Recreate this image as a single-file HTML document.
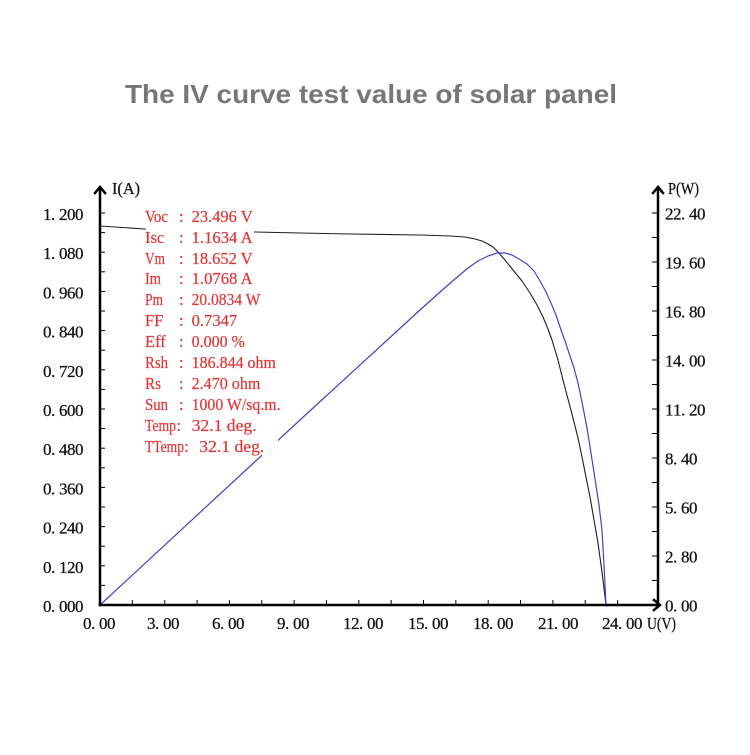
<!DOCTYPE html>
<html>
<head>
<meta charset="utf-8">
<style>
  html, body { margin: 0; padding: 0; background: #ffffff; }
  body { width: 750px; height: 750px; overflow: hidden; }
  svg text { white-space: pre; }
</style>
</head>
<body>
<svg width="750" height="750" viewBox="0 0 750 750" xmlns="http://www.w3.org/2000/svg">
  <rect x="0" y="0" width="750" height="750" fill="#ffffff"/>

  <!-- Title -->
  <text x="371" y="103" text-anchor="middle" font-family="Liberation Sans, Arial, sans-serif" font-weight="bold" font-size="26" fill="#777777" textLength="492" lengthAdjust="spacingAndGlyphs">The IV curve test value of solar panel</text>

  <!-- Curves -->
  <polyline fill="none" stroke="#1e1e1e" stroke-width="1.1" stroke-linejoin="round"
    points="100,226 145,229 255,232 300,233 350,234 420,235 450,236 465,237 475,239 482,241 488,244 493,247 498,252 505,260 513,270 522,281 530,293 537,305 543,317 548,329 552,340 558,360 563,380 568,399 573,418 578,438 582,457 586,477 590,497 594,520 598,543 602,572 606,605"/>
  <polyline fill="none" stroke="#4343c4" stroke-width="1.2" stroke-linejoin="round"
    points="100,605 300,420 420,310 440,292 455,279 468,268 478,261 488,256 497,253 505,253 512,255 519,259 527,264 534,271 540,281 546,292 551,303 556,315 560,327 565,341 570,356 574,368 578,383 582,402 587,428 591,453 595,479 599,505 602,530 604,565 606,605"/>

  <!-- white backgrounds behind text -->
  <rect x="146" y="223" width="108" height="14" fill="#ffffff"/>
  <rect x="262" y="439" width="16" height="19" fill="#ffffff"/>

  <!-- Axes -->
  <g stroke="#000" stroke-width="2.5" fill="none" stroke-linecap="square">
    <line x1="100" y1="188" x2="100" y2="605"/>
    <line x1="100" y1="605" x2="659" y2="605"/>
    <line x1="658" y1="188" x2="658" y2="605"/>
    <polyline points="95,193 100,187 105,193" stroke-linejoin="miter"/>
    <polyline points="653,193 658,187 663,193" stroke-linejoin="miter"/>
    <polyline points="654,600 660,605 654,610" stroke-linejoin="miter"/>
  </g>

  <!-- Left ticks -->
  <g stroke="#000" stroke-width="1">
    <line x1="100" y1="585.4" x2="105" y2="585.4"/>
    <line x1="100" y1="565.8" x2="105" y2="565.8"/>
    <line x1="100" y1="546.2" x2="105" y2="546.2"/>
    <line x1="100" y1="526.6" x2="105" y2="526.6"/>
    <line x1="100" y1="507" x2="105" y2="507"/>
    <line x1="100" y1="487.4" x2="105" y2="487.4"/>
    <line x1="100" y1="467.8" x2="105" y2="467.8"/>
    <line x1="100" y1="448.2" x2="105" y2="448.2"/>
    <line x1="100" y1="428.6" x2="105" y2="428.6"/>
    <line x1="100" y1="409" x2="105" y2="409"/>
    <line x1="100" y1="389.4" x2="105" y2="389.4"/>
    <line x1="100" y1="369.8" x2="105" y2="369.8"/>
    <line x1="100" y1="350.2" x2="105" y2="350.2"/>
    <line x1="100" y1="330.6" x2="105" y2="330.6"/>
    <line x1="100" y1="311" x2="105" y2="311"/>
    <line x1="100" y1="291.4" x2="105" y2="291.4"/>
    <line x1="100" y1="271.8" x2="105" y2="271.8"/>
    <line x1="100" y1="252.2" x2="105" y2="252.2"/>
    <line x1="100" y1="232.6" x2="105" y2="232.6"/>
    <line x1="100" y1="213" x2="105" y2="213"/>
  </g>

  <!-- Right ticks -->
  <g stroke="#000" stroke-width="1">
    <line x1="652" y1="580.5" x2="658" y2="580.5"/>
    <line x1="652" y1="556" x2="658" y2="556"/>
    <line x1="652" y1="531.5" x2="658" y2="531.5"/>
    <line x1="652" y1="507" x2="658" y2="507"/>
    <line x1="652" y1="482.5" x2="658" y2="482.5"/>
    <line x1="652" y1="458" x2="658" y2="458"/>
    <line x1="652" y1="433.5" x2="658" y2="433.5"/>
    <line x1="652" y1="409" x2="658" y2="409"/>
    <line x1="652" y1="384.5" x2="658" y2="384.5"/>
    <line x1="652" y1="360" x2="658" y2="360"/>
    <line x1="652" y1="335.5" x2="658" y2="335.5"/>
    <line x1="652" y1="311" x2="658" y2="311"/>
    <line x1="652" y1="286.5" x2="658" y2="286.5"/>
    <line x1="652" y1="262" x2="658" y2="262"/>
    <line x1="652" y1="237.5" x2="658" y2="237.5"/>
    <line x1="652" y1="213" x2="658" y2="213"/>
  </g>

  <!-- Bottom ticks -->
  <g stroke="#000" stroke-width="1">
    <line x1="132.35" y1="600" x2="132.35" y2="605"/>
    <line x1="164.7" y1="600" x2="164.7" y2="605"/>
    <line x1="197.05" y1="600" x2="197.05" y2="605"/>
    <line x1="229.4" y1="600" x2="229.4" y2="605"/>
    <line x1="261.75" y1="600" x2="261.75" y2="605"/>
    <line x1="294.1" y1="600" x2="294.1" y2="605"/>
    <line x1="326.45" y1="600" x2="326.45" y2="605"/>
    <line x1="358.8" y1="600" x2="358.8" y2="605"/>
    <line x1="391.15" y1="600" x2="391.15" y2="605"/>
    <line x1="423.5" y1="600" x2="423.5" y2="605"/>
    <line x1="455.85" y1="600" x2="455.85" y2="605"/>
    <line x1="488.2" y1="600" x2="488.2" y2="605"/>
    <line x1="520.55" y1="600" x2="520.55" y2="605"/>
    <line x1="552.9" y1="600" x2="552.9" y2="605"/>
    <line x1="585.25" y1="600" x2="585.25" y2="605"/>
    <line x1="617.6" y1="600" x2="617.6" y2="605"/>
  </g>

  <!-- Axis labels -->
  <g font-family="Liberation Serif, 'Times New Roman', serif" font-size="17" fill="#111" stroke="#111" stroke-width="0.25">
    <!-- left -->
    <text x="43 51 59 67 75" y="220">1.200</text>
    <text x="43 51 59 67 75" y="259.2">1.080</text>
    <text x="43 51 59 67 75" y="298.4">0.960</text>
    <text x="43 51 59 67 75" y="337.6">0.840</text>
    <text x="43 51 59 67 75" y="376.8">0.720</text>
    <text x="43 51 59 67 75" y="416">0.600</text>
    <text x="43 51 59 67 75" y="455.2">0.480</text>
    <text x="43 51 59 67 75" y="494.4">0.360</text>
    <text x="43 51 59 67 75" y="533.6">0.240</text>
    <text x="43 51 59 67 75" y="572.8">0.120</text>
    <text x="43 51 59 67 75" y="612">0.000</text>
    <!-- right -->
    <text x="665 673 681 689 697" y="219.5">22.40</text>
    <text x="665 673 681 689 697" y="268.5">19.60</text>
    <text x="665 673 681 689 697" y="317.5">16.80</text>
    <text x="665 673 681 689 697" y="366.5">14.00</text>
    <text x="665 673 681 689 697" y="415.5">11.20</text>
    <text x="665 673 681 689" y="464.5">8.40</text>
    <text x="665 673 681 689" y="513.5">5.60</text>
    <text x="665 673 681 689" y="562.5">2.80</text>
    <text x="665 673 681 689" y="611.5">0.00</text>
    <!-- bottom -->
    <text x="83 91 99 107" y="629">0.00</text>
    <text x="147 155 163 171" y="629">3.00</text>
    <text x="212 220 228 236" y="629">6.00</text>
    <text x="277 285 293 301" y="629">9.00</text>
    <text x="343 351 359 367 375" y="629">12.00</text>
    <text x="408 416 424 432 440" y="629">15.00</text>
    <text x="473 481 489 497 505" y="629">18.00</text>
    <text x="538 546 554 562 570" y="629">21.00</text>
    <text x="602 610 618 626 634" y="629">24.00</text>
    <text x="647" y="629" textLength="29" lengthAdjust="spacingAndGlyphs">U(V)</text>
    <text x="112" y="194" textLength="28" lengthAdjust="spacingAndGlyphs">I(A)</text>
    <text x="668" y="194" textLength="31" lengthAdjust="spacingAndGlyphs">P(W)</text>
  </g>

  <!-- Red info text -->
  <g font-family="Liberation Serif, 'Times New Roman', serif" font-size="16.5" fill="#e03535" stroke="#e03535" stroke-width="0.2">
    <text x="145" y="222" textLength="23" lengthAdjust="spacingAndGlyphs">Voc</text>
    <text x="179" y="222">:</text>
    <text x="191.6" y="222" textLength="61" lengthAdjust="spacingAndGlyphs">23.496 V</text>

    <text x="145" y="243">Isc</text>
    <text x="179" y="243">:</text>
    <text x="191.6" y="243" textLength="61" lengthAdjust="spacingAndGlyphs">1.1634 A</text>

    <text x="145" y="264" textLength="20" lengthAdjust="spacingAndGlyphs">Vm</text>
    <text x="179" y="264">:</text>
    <text x="191.6" y="264" textLength="61" lengthAdjust="spacingAndGlyphs">18.652 V</text>

    <text x="145" y="284" textLength="16" lengthAdjust="spacingAndGlyphs">Im</text>
    <text x="179" y="284">:</text>
    <text x="191.6" y="284" textLength="61" lengthAdjust="spacingAndGlyphs">1.0768 A</text>

    <text x="145" y="305" textLength="18" lengthAdjust="spacingAndGlyphs">Pm</text>
    <text x="179" y="305">:</text>
    <text x="191.6" y="305" textLength="68.8" lengthAdjust="spacingAndGlyphs">20.0834 W</text>

    <text x="145" y="326">FF</text>
    <text x="179" y="326">:</text>
    <text x="191.6" y="326" textLength="45.6" lengthAdjust="spacingAndGlyphs">0.7347</text>

    <text x="145" y="347">Eff</text>
    <text x="179" y="347">:</text>
    <text x="191.6" y="347" textLength="53.3" lengthAdjust="spacingAndGlyphs">0.000 %</text>

    <text x="145" y="368" textLength="23" lengthAdjust="spacingAndGlyphs">Rsh</text>
    <text x="179" y="368">:</text>
    <text x="191.6" y="368" textLength="84.4" lengthAdjust="spacingAndGlyphs">186.844 ohm</text>

    <text x="145" y="389" textLength="16" lengthAdjust="spacingAndGlyphs">Rs</text>
    <text x="179" y="389">:</text>
    <text x="191.6" y="389" textLength="68.8" lengthAdjust="spacingAndGlyphs">2.470 ohm</text>

    <text x="145" y="410" textLength="23" lengthAdjust="spacingAndGlyphs">Sun</text>
    <text x="179" y="410">:</text>
    <text x="191.6" y="410" textLength="89" lengthAdjust="spacingAndGlyphs">1000 W/sq.m.</text>

    <text x="145" y="431" textLength="31" lengthAdjust="spacingAndGlyphs">Temp</text>
    <text x="176.5" y="431">:</text>
    <text x="191.6" y="431" textLength="65" lengthAdjust="spacingAndGlyphs">32.1 deg.</text>

    <text x="145" y="452" textLength="39" lengthAdjust="spacingAndGlyphs">TTemp</text>
    <text x="184.3" y="452">:</text>
    <text x="199.3" y="452" textLength="65" lengthAdjust="spacingAndGlyphs">32.1 deg.</text>
  </g>
</svg>
</body>
</html>
